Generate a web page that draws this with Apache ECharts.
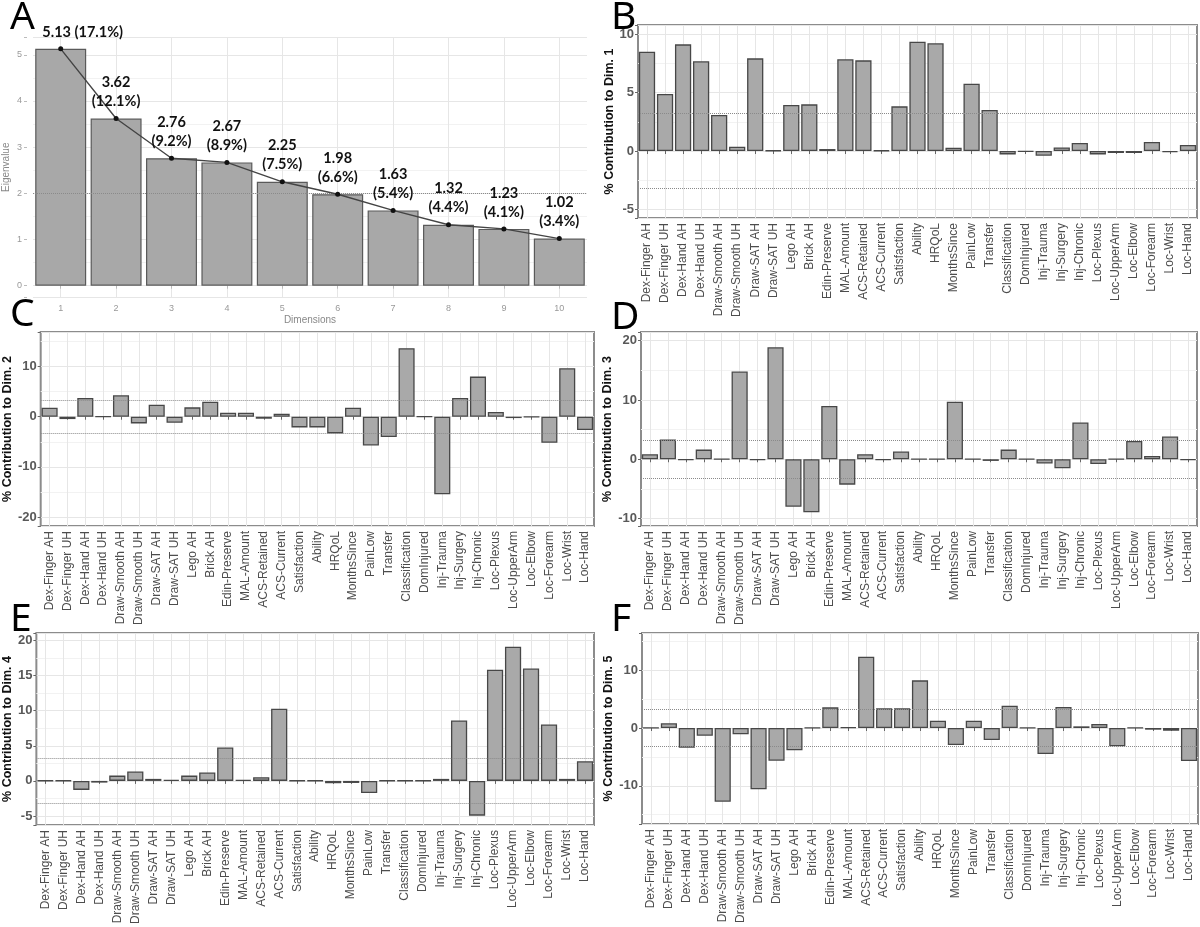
<!DOCTYPE html>
<html>
<head>
<meta charset="utf-8">
<script src="https://cdn.jsdelivr.net/npm/echarts@6/dist/echarts.min.js"></script>
<style>
html, body { margin: 0; padding: 0; background: #fff; }
#chart { width: 1200px; height: 927px; }
</style>
</head>
<body>
<div id="chart"></div>
<script>
// scree plot: eigenvalue and % of variance for the first 10 dimensions
const dims = ['1', '2', '3', '4', '5', '6', '7', '8', '9', '10'];
const eigenvalues = [5.13, 3.62, 2.76, 2.67, 2.25, 1.98, 1.63, 1.32, 1.23, 1.02];
const explained = [17.1, 12.1, 9.2, 8.9, 7.5, 6.6, 5.4, 4.4, 4.1, 3.4];

// variables (same order in every contribution panel)
const variables = ['Dex-Finger AH', 'Dex-Finger UH', 'Dex-Hand AH', 'Dex-Hand UH', 'Draw-Smooth AH',
  'Draw-Smooth UH', 'Draw-SAT AH', 'Draw-SAT UH', 'Lego AH', 'Brick AH', 'Edin-Preserve',
  'MAL-Amount', 'ACS-Retained', 'ACS-Current', 'Satisfaction', 'Ability', 'HRQoL', 'MonthsSince',
  'PainLow', 'Transfer', 'Classification', 'DomInjured', 'Inj-Trauma', 'Inj-Surgery', 'Inj-Chronic',
  'Loc-Plexus', 'Loc-UpperArm', 'Loc-Elbow', 'Loc-Forearm', 'Loc-Wrist', 'Loc-Hand'];

// signed % contribution of each variable to dims 1..5
const dim1 = [8.51, 4.89, 9.14, 7.69, 3.09, 0.37, 7.94, 0.05, 3.94, 4.0, 0.17, 7.86, 7.77, 0.05, 3.83,
  9.37, 9.23, 0.29, 5.77, 3.51, -0.29, -0.05, -0.4, 0.31, 0.69, -0.29, -0.17, -0.17, 0.77, -0.09, 0.51];
const dim2 = [1.8, -0.47, 3.73, 0.05, 4.27, -1.33, 2.4, -1.2, 1.87, 3.0, 0.8, 0.8, -0.4, 0.6, -2.13,
  -2.13, -3.33, 1.8, -5.73, -4.07, 13.67, 0.05, -15.47, 3.73, 8.0, 0.93, -0.27, -0.05, -5.2, 9.67, -2.67];
const dim3 = [0.85, 3.32, -0.1, 1.63, 0.05, 14.8, -0.1, 18.9, -8.0, -8.96, 9.0, -4.28, 0.85, -0.1, 1.3,
  0.05, 0.05, 9.7, 0.05, -0.28, 1.63, 0.05, -0.73, -1.52, 6.2, -0.79, 0.05, 3.1, 0.56, 3.83, -0.1];
const dim4 = [0.05, 0.05, -1.28, -0.24, 0.76, 1.33, 0.29, 0.14, 0.76, 1.19, 4.75, 0.14, 0.52, 10.26, 0.05,
  0.05, -0.33, -0.29, -1.71, 0.05, 0.05, 0.05, 0.29, 8.6, -4.94, 15.82, 19.1, 16.0, 8.03, 0.29, 2.8];
const dim5 = [0.05, 0.81, -3.4, -1.33, -12.74, -1.1, -10.6, -5.65, -3.86, 0.05, 3.57, 0.12, 12.33, 3.4, 3.4,
  8.24, 1.27, -2.94, 1.27, -2.07, 3.86, 0.05, -4.5, 3.63, 0.29, 0.69, -3.17, 0.05, -0.29, -0.46, -5.7];

// expected contribution if all variables were equal
const refLine = 100 / variables.length;

const chart = echarts.init(document.getElementById('chart'));

const gridLine = '#e6e6e6';
const minorLine = '#f2f2f2';

// layout of the five contribution panels
const panels = [
  { data: dim1, dim: 1, box: [638, 25, 559, 193], y: [-5.74, 10.8], step: 5, split: 3, gap: 21 },
  { data: dim2, dim: 2, box: [39, 332, 555, 194], y: [-21.8, 16.9], step: 10, split: 3, gap: 25 },
  { data: dim3, dim: 3, box: [641, 332, 556, 194], y: [-11.26, 21.47], step: 10, split: 3, gap: 26 },
  { data: dim4, dim: 4, box: [36, 633, 558, 192], y: [-6.27, 21.05], step: 5, split: 5, gap: 21 },
  { data: dim5, dim: 5, box: [642, 633, 556, 191], y: [-16.6, 16.43], step: 10, split: 3, gap: 27 }
];

const grids = [{ left: 32, top: 37, width: 555, height: 260.5 }];
const xAxes = [{
  type: 'category', gridIndex: 0, data: dims,
  axisLine: { show: false },
  axisTick: { show: true, alignWithLabel: true, length: 3, lineStyle: { color: '#bbb' } },
  axisLabel: { fontSize: 9, color: '#999', margin: 7, fontFamily: 'Liberation Sans' },
  splitLine: { show: true, alignWithLabel: true, lineStyle: { color: gridLine } },
  name: 'Dimensions', nameLocation: 'middle', nameGap: 18,
  nameTextStyle: { fontSize: 10, color: '#888', fontFamily: 'Liberation Sans' }
}];
const yAxes = [{
  type: 'value', gridIndex: 0, min: -0.2565, max: 5.3865, splitNumber: 5, minInterval: 1, maxInterval: 1,
  offset: 6,
  axisLine: { show: false },
  axisTick: { show: true, length: 3, lineStyle: { color: '#bbb' } },
  axisLabel: {
    fontSize: 9, color: '#999', margin: 5, fontFamily: 'Liberation Sans',
    formatter: v => (Math.abs(v - Math.round(v)) < 1e-6 ? String(v) : '')
  },
  splitLine: { lineStyle: { color: gridLine } },
  minorTick: { show: false, splitNumber: 2 },
  minorSplitLine: { show: true, lineStyle: { color: minorLine } },
  name: 'Eigenvalue', nameLocation: 'middle', nameGap: 16,
  nameTextStyle: { fontSize: 10, color: '#888', fontFamily: 'Liberation Sans' }
}];

const series = [
  {
    type: 'bar', xAxisIndex: 0, yAxisIndex: 0, data: eigenvalues, barCategoryGap: '8%',
    itemStyle: { color: '#a8a8a8', borderColor: '#5a5a5a', borderWidth: 1.2 },
    markLine: {
      silent: true, symbol: 'none', label: { show: false },
      lineStyle: { type: 'dotted', color: '#8a8a8a', width: 1 },
      data: [{ yAxis: 2 }]
    }
  },
  {
    type: 'line', xAxisIndex: 0, yAxisIndex: 0, z: 5,
    data: eigenvalues.map((v, i) => (i === 0 ? { value: v, label: { offset: [22, 0] } } : v)),
    symbol: 'circle', symbolSize: 5,
    lineStyle: { color: '#444', width: 1.4 },
    itemStyle: { color: '#111' },
    label: {
      show: true, position: 'top', distance: 5,
      fontFamily: 'Lato', fontWeight: 'bold', fontSize: 14.5, lineHeight: 19, color: '#111',
      formatter: p => p.dataIndex === 0
        ? eigenvalues[0].toFixed(2) + ' (' + explained[0].toFixed(1) + '%)'
        : eigenvalues[p.dataIndex].toFixed(2) + '\n(' + explained[p.dataIndex].toFixed(1) + '%)'
    }
  }
];

panels.forEach((p, k) => {
  const gi = k + 1;
  grids.push({
    left: p.box[0], top: p.box[1], width: p.box[2], height: p.box[3],
    show: true, borderColor: '#8c8c8c', borderWidth: 2, backgroundColor: '#fff'
  });
  xAxes.push({
    type: 'category', gridIndex: gi, data: variables,
    axisLine: { show: false },
    axisTick: { show: true, alignWithLabel: true, length: 3, lineStyle: { color: '#666' } },
    axisLabel: { interval: 0, rotate: 90, fontSize: 12, color: '#4d4d4d', margin: 5, fontFamily: 'Liberation Sans' },
    splitLine: { show: true, alignWithLabel: true, lineStyle: { color: gridLine } }
  });
  yAxes.push({
    type: 'value', gridIndex: gi, min: p.y[0], max: p.y[1],
    splitNumber: p.split, minInterval: p.step, maxInterval: p.step,
    axisLine: { show: false },
    axisTick: { show: true, length: 3, lineStyle: { color: '#666' } },
    axisLabel: {
      fontSize: 13, fontWeight: 'bold', color: '#595959', margin: 4, fontFamily: 'Liberation Sans',
      formatter: v => (Math.abs(v / p.step - Math.round(v / p.step)) < 1e-6 ? String(v) : '')
    },
    splitLine: { lineStyle: { color: gridLine } },
    minorTick: { show: false, splitNumber: 2 },
    minorSplitLine: { show: true, lineStyle: { color: minorLine } },
    name: '% Contribution to Dim. ' + p.dim, nameLocation: 'middle', nameGap: p.gap,
    nameTextStyle: { fontSize: 12.5, fontWeight: 'bold', color: '#111', fontFamily: 'Liberation Sans' }
  });
  series.push({
    type: 'bar', xAxisIndex: gi, yAxisIndex: gi, data: p.data, barCategoryGap: '10%',
    itemStyle: { color: '#a9a9a9', borderColor: '#474747', borderWidth: 1.3 },
    markLine: {
      silent: true, symbol: 'none', label: { show: false },
      lineStyle: { type: 'dotted', color: '#8a8a8a', width: 1 },
      data: [{ yAxis: refLine }, { yAxis: -refLine }]
    }
  });
});

// panel letters
const letters = [['A', 10, -2], ['B', 611, -2], ['C', 10, 295], ['D', 611, 298], ['E', 10, 600], ['F', 611, 600]];

chart.setOption({
  animation: false,
  backgroundColor: '#fff',
  grid: grids,
  xAxis: xAxes,
  yAxis: yAxes,
  series: series,
  graphic: letters.map(l => ({
    type: 'text', left: l[1], top: l[2], z: 100,
    style: { text: l[0], font: '39px "Noto Sans"', fill: '#000' }
  }))
});
</script>
</body>
</html>
